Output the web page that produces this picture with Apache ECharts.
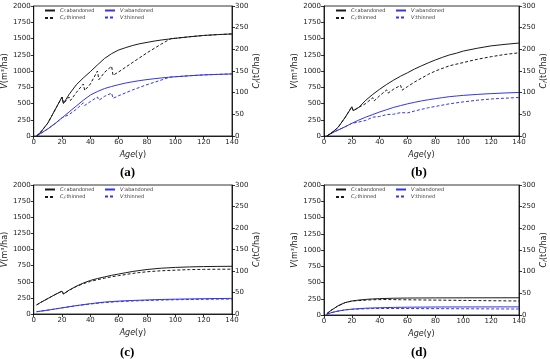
<!DOCTYPE html>
<html><head><meta charset="utf-8">
<script src="https://cdn.jsdelivr.net/npm/echarts@6/dist/echarts.min.js"></script>
<style>html,body{margin:0;padding:0;background:#fff}#c{width:550px;height:359px}</style>
</head><body><div id="c"></div>
<script>
// ---------- data ----------
const panelLabels = ['(a)', '(b)', '(c)', '(d)'];
const seriesNames = ['Cf:abandoned', 'Cf:thinned', 'V:abandoned', 'V:thinned'];
const xRange = [0, 140], xStep = 20;
const vRange = [0, 2000], vStep = 250;
const cRange = [0, 300], cStep = 50;

// panel (a)
const aCfAbAge = [2,5,10,15,20,21,25,30,35,40,45,50,55,60,65,70,75,80,85,90,95,100,110,120,130,140];
const aCfAbVal = [0,9,30,60,90,75,96,118,134,148.5,164,179,190,198.5,204,209,213,216,219,221.5,223.5,225.5,229,232,234,235.5];
const aCfThAge = [2,5,10,15,20,21,25,26,30,35,36,40,45,46,50,55,56,60,65,70,75,80,85,90,97,100,110,120,130,140];
const aCfThVal = [0,9,30,60,90,75,90,82,100,120,105,120,150,130,147,161,140,148,159,170,181,192,202,212,225,225.5,229,232,234,235.5];
const aVAbAge = [2,5,10,15,20,25,30,35,40,45,50,55,60,65,70,75,80,85,90,95,100,110,120,130,140];
const aVAbVal = [0,40,110,190,280,370,460,550,630,685,730,762,790,815,835,853,868,881,893,903,912,927,940,948,955];
const aVThAge = [2,5,10,15,20,21,25,26,30,35,36,40,45,46,50,55,56,60,65,70,75,80,85,90,96,100,110,120,130,140];
const aVThVal = [0,40,110,190,280,265,330,315,410,510,470,530,600,550,610,660,580,620,665,710,750,790,825,860,905,912,927,940,948,955];

// panel (b)
const bCfAbAge = [2,5,10,15,20,21,25,30,35,40,45,50,55,60,65,70,75,80,85,90,95,100,110,120,130,140];
const bCfAbVal = [0,6,19.5,42,67.5,58.5,66,82.5,96,108,119,129,138,146,154.5,162,169,175.5,181.5,187,191,196,202.5,208,211.5,214.5];
const bCfThAge = [2,5,10,15,20,21,25,26,30,35,36,40,45,46,50,55,56,60,65,70,75,80,90,100,110,120,130,140];
const bCfThVal = [0,6,19.5,42,67.5,58.5,66,63,75,88.5,81,93,106.5,99,108,117,105.75,114,124.5,133.5,142.5,150,162,169.5,177,183,188.25,192];
const bVAbAge = [2,5,10,15,20,25,30,35,40,45,50,55,60,65,70,75,80,85,90,95,100,110,120,130,140];
const bVAbVal = [0,40,90,140,195,245,290,330,370,405,440,468,495,518,540,558,575,590,605,615,625,640,652,662,670];
const bVThAge = [2,5,10,15,20,21,25,26,30,35,36,40,45,46,50,55,56,60,65,70,75,80,90,100,110,120,130,140];
const bVThVal = [0,40,90,140,195,180,215,205,240,290,270,300,330,305,335,360,330,355,385,410,435,455,495,525,550,570,582,592];

// panel (c)
const cCfAbAge = [2,5,10,15,20,21,25,30,35,40,45,50,55,60,65,70,75,80,90,100,110,120,130,140];
const cCfAbVal = [21,27,36,45,53.25,46.5,55.5,64.5,72,78,82.5,86.25,90,93,96,99,101.25,103.5,106.5,108.3,109.5,110.25,110.7,111];
const cCfThAge = [2,5,10,15,20,21,25,30,35,40,45,50,55,60,65,70,75,80,90,100,110,120,130,140];
const cCfThVal = [21,27,36,45,53.25,46.5,55.2,63.75,70.5,75.75,79.8,83.25,86.55,89.25,91.8,94.5,96.45,98.25,100.5,102,103.2,103.8,104.1,104.25];
const cVAbAge = [2,10,20,30,40,50,60,70,80,90,100,110,120,130,140];
const cVAbVal = [35,60,95,130,160,185,200,210,218,225,230,234,237,240,242];
const cVThAge = [2,10,20,30,40,50,60,70,80,90,100,110,120,130,140];
const cVThVal = [35,60,95,128,155,178,192,202,210,216,221,225,228,230,232];

// panel (d)
const dCfAbAge = [2,5,10,15,20,25,30,35,40,50,60,80,100,140];
const dCfAbVal = [3,10.5,21,28.5,32.25,34.5,36,37.05,37.8,38.7,39.15,39.45,39.6,39.75];
const dCfThAge = [2,5,10,15,20,21,30,35,36,45,46,55,56,140];
const dCfThVal = [3,10.5,21,28.5,32.25,30.75,34.2,35.25,34.2,35.7,34.5,35.25,32.25,32.25];
const dVAbAge = [2,5,10,15,20,30,40,50,60,80,100,140];
const dVAbVal = [10,35,60,78,90,105,112,117,120,123,124,125];
const dVThAge = [2,5,10,15,20,21,35,36,45,46,55,56,140];
const dVThVal = [10,35,60,78,88,84,100,95,100,95,100,92,92];

// ---------- build ----------
const panels = [
  [[aCfAbAge,aCfAbVal],[aCfThAge,aCfThVal],[aVAbAge,aVAbVal],[aVThAge,aVThVal]],
  [[bCfAbAge,bCfAbVal],[bCfThAge,bCfThVal],[bVAbAge,bVAbVal],[bVThAge,bVThVal]],
  [[cCfAbAge,cCfAbVal],[cCfThAge,cCfThVal],[cVAbAge,cVAbVal],[cVThAge,cVThVal]],
  [[dCfAbAge,dCfAbVal],[dCfThAge,dCfThVal],[dVAbAge,dVAbVal],[dVThAge,dVThVal]]
];
const gridPos = [
  {left:33, top:6, width:199, height:130},
  {left:324, top:6, width:199, height:130},
  {left:33, top:185, width:199, height:129},
  {left:324, top:185, width:199, height:130}
];
const labelPos = [[130,166],[421,166],[130,346],[421,346]];
const BLK = '#1a1a1a', BLUE = '#3535e6';
const FONT = 'DejaVu Sans';
const zip = (a, b) => a.map((x, i) => [x, b[i]]);

const grid = [], xAxis = [], yAxis = [], series = [], legend = [], graphic = [];
const tickLbl = {fontSize:7, color:'#222', fontFamily:FONT, margin:3, formatter: v => String(v)};
const axisLineS = {show:true, lineStyle:{color:'#000', width:0.8}};
const tickS = {show:true, length:3, lineStyle:{color:'#000', width:0.8}};
const nameRich = {
  i:{fontStyle:'italic', fontSize:8, fontFamily:FONT, color:'#222'},
  s:{fontStyle:'italic', fontSize:5.5, fontFamily:FONT, color:'#222', padding:[4,0,0,0]},
  n:{fontSize:8, fontFamily:FONT, color:'#222'}
};
const legRich = {
  c:{fontStyle:'italic', fontSize:5, fontFamily:FONT, color:'#333'},
  s:{fontStyle:'italic', fontSize:3.5, fontFamily:FONT, color:'#333', padding:[2,0,0,0]},
  n:{fontSize:5, fontFamily:FONT, color:'#333'}
};
const legFmt = n => n.startsWith('Cf') ? '{c|C}{s|f}{n|' + n.slice(2) + '}' : '{c|V}{n|' + n.slice(1) + '}';

panels.forEach((p, k) => {
  const g = gridPos[k];
  grid.push(Object.assign({show:true, borderColor:'#000', borderWidth:0.8, backgroundColor:'transparent'}, g));
  xAxis.push({type:'value', gridIndex:k, min:xRange[0], max:xRange[1], interval:xStep,
    axisLine:axisLineS, axisTick:tickS, axisLabel:tickLbl, splitLine:{show:false},
    name:'{i|Age}{n|(y)}', nameLocation:'middle', nameGap:15, nameTextStyle:{rich:nameRich}});
  yAxis.push({type:'value', gridIndex:k, position:'left', min:vRange[0], max:vRange[1], interval:vStep,
    axisLine:axisLineS, axisTick:tickS, axisLabel:tickLbl, splitLine:{show:false},
    name:'{i|V}{n|(m³/ha)}', nameLocation:'middle', nameGap:23, nameRotate:90, nameTextStyle:{rich:nameRich}});
  yAxis.push({type:'value', gridIndex:k, position:'right', min:cRange[0], max:cRange[1], interval:cStep,
    axisLine:axisLineS, axisTick:tickS, axisLabel:tickLbl, splitLine:{show:false},
    name:'{i|C}{s|f}{n|(tC/ha)}', nameLocation:'middle', nameGap:20, nameRotate:90, nameTextStyle:{rich:nameRich}});
  p.forEach((s, j) => {
    const isCf = j < 2, dashed = j % 2 === 1;
    series.push({
      name: seriesNames[j], type:'line', xAxisIndex:k, yAxisIndex: isCf ? 2*k+1 : 2*k,
      data: zip(s[0], s[1]), symbol:'none', smooth:false, animation:false,
      lineStyle:{color: isCf ? BLK : BLUE, width:1, type: dashed ? [3,2] : 'solid'},
      itemStyle:{color: isCf ? BLK : BLUE}, z: isCf ? 3 : 2
    });
  });
  const legBase = {orient:'vertical', top:g.top+2, itemWidth:10, itemHeight:5, itemGap:2,
    formatter:legFmt, textStyle:{rich:legRich}, padding:0, selectedMode:false,
    itemStyle:{opacity:0}};
  legend.push(Object.assign({data:[seriesNames[0], seriesNames[1]], left:g.left+11}, legBase));
  legend.push(Object.assign({data:[seriesNames[2], seriesNames[3]], left:g.left+71}, legBase));
  graphic.push({type:'text', left:labelPos[k][0]-10, top:labelPos[k][1],
    style:{text:panelLabels[k], fontSize:13, fontWeight:'bold', fontFamily:'Liberation Serif', fill:'#000'}});
});

const chart = echarts.init(document.getElementById('c'), null, {renderer:'canvas'});
chart.setOption({animation:false, grid, xAxis, yAxis, series, legend, graphic});
</script></body></html>
